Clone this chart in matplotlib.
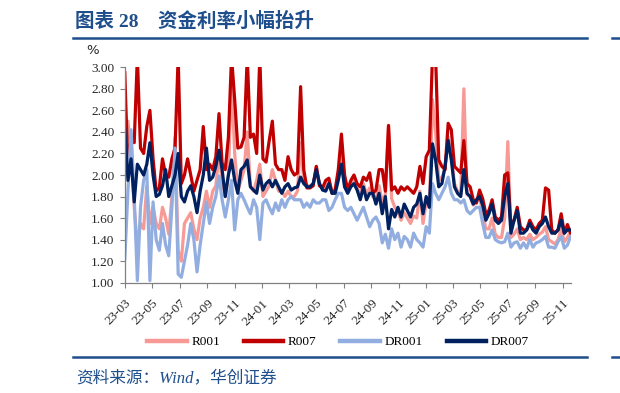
import numpy as np
import pandas as pd
import matplotlib
matplotlib.use('Agg')
import matplotlib.pyplot as plt
from matplotlib.lines import Line2D

# weekly readings, 2023-03 .. 2025-11 (%)
dates = pd.date_range('2023-03-01', periods=143, freq='7D')

r001 = [2.40, 2.50, 2.20, 1.70, 1.35, 1.55, 1.50, 1.90, 1.55, 1.70, 1.55, 1.50, 1.70, 1.60,
        1.45, 1.80, 2.35, 1.30, 1.20, 1.55, 1.60, 1.65, 1.50, 1.40, 1.60, 1.70, 1.85, 1.70,
        1.85, 1.90, 2.20, 1.95, 1.80, 2.00, 2.90, 2.20, 1.85, 1.95, 2.05, 2.40, 1.90, 1.85,
        1.95, 2.10, 1.80, 1.85, 1.90, 2.05, 1.95, 1.85, 1.85, 1.80, 1.85, 1.80, 1.80, 1.85,
        2.30, 1.95, 1.90, 1.90, 1.92, 2.08, 1.92, 1.88, 1.88, 1.95, 1.85, 1.86, 1.98, 2.25,
        1.92, 1.85, 1.92, 1.98, 1.88, 1.82, 1.92, 1.82, 1.88, 1.80, 1.78, 1.90, 1.75, 1.82, 2.46,
        1.78, 1.70, 1.66, 1.58, 1.65, 1.60, 1.55, 1.62, 1.60, 1.85, 1.55, 1.75, 1.70, 2.70,
        2.40, 1.95, 1.98, 2.05, 2.35, 2.20, 1.92, 1.85, 1.82, 2.80, 1.82, 1.80, 1.72, 1.75, 1.80,
        1.65, 1.50, 1.50, 1.60, 1.45, 1.42, 1.42, 1.60, 2.31, 1.42, 1.45, 1.50, 1.40, 1.42,
        1.40, 1.45, 1.40, 1.42, 1.45, 1.47, 1.52, 1.40, 1.38, 1.36, 1.40, 1.50, 1.38, 1.42, 1.48]

r007 = [2.95, 2.05, 2.35, 2.30, 3.10, 2.25, 2.20, 2.45, 2.60, 2.15, 1.85, 1.88, 2.15, 2.00,
        1.98, 2.15, 2.25, 3.10, 1.92, 2.00, 2.15, 2.00, 1.85, 1.95, 2.05, 2.45, 2.05, 2.10,
        2.05, 2.17, 2.57, 2.11, 2.05, 2.35, 3.10, 2.70, 2.25, 2.26, 2.35, 3.10, 2.35, 2.38,
        2.20, 3.10, 2.15, 2.12, 2.32, 2.50, 2.10, 2.05, 2.05, 1.95, 2.17, 2.05, 2.00, 2.02,
        2.82, 2.05, 1.88, 1.88, 1.90, 2.08, 1.90, 1.88, 1.95, 1.97, 1.83, 1.86, 2.05, 2.38,
        2.00, 1.86, 1.95, 2.00, 1.92, 1.89, 1.98, 1.95, 2.02, 1.83, 1.86, 2.05, 2.05, 1.85, 2.46,
        1.86, 1.89, 1.83, 1.89, 1.86, 1.89, 1.86, 1.83, 1.89, 2.08, 1.92, 2.17, 2.23, 3.10,
        3.10, 2.14, 2.08, 2.05, 2.48, 2.42, 2.08, 2.05, 2.02, 2.32, 1.92, 1.89, 1.77, 1.74, 1.86,
        1.78, 1.64, 1.67, 1.77, 1.61, 1.58, 1.61, 2.00, 2.02, 1.52, 1.58, 1.70, 1.52, 1.49,
        1.49, 1.58, 1.52, 1.49, 1.55, 1.58, 1.88, 1.86, 1.49, 1.46, 1.49, 1.64, 1.46, 1.54, 1.46]

dr001 = [1.22, 1.85, 2.42, 1.80, 1.02, 1.70, 1.95, 2.05, 1.02, 1.75, 1.40, 1.30, 1.55, 1.35,
         1.25, 1.70, 2.25, 1.08, 1.05, 1.20, 1.35, 1.55, 1.40, 1.10, 1.35, 1.55, 1.75, 1.55,
         1.70, 1.80, 1.99, 1.77, 1.61, 1.77, 1.95, 1.49, 1.77, 1.83, 1.77, 1.70, 1.64, 1.77,
         1.70, 1.40, 1.74, 1.77, 1.70, 1.64, 1.74, 1.67, 1.77, 1.70, 1.77, 1.80, 1.77, 1.77,
         1.77, 1.70, 1.74, 1.70, 1.77, 1.74, 1.74, 1.77, 1.77, 1.67, 1.70, 1.77, 1.83, 1.83,
         1.70, 1.67, 1.70, 1.64, 1.58, 1.64, 1.70, 1.61, 1.52, 1.58, 1.61, 1.55, 1.37, 1.45, 1.32,
         1.50, 1.40, 1.46, 1.33, 1.43, 1.40, 1.33, 1.46, 1.40, 1.37, 1.33, 1.52, 1.46, 1.92,
         1.83, 1.77, 1.83, 1.89, 1.98, 1.83, 1.77, 1.77, 1.74, 1.77, 1.67, 1.64, 1.67, 1.70, 1.70,
         1.55, 1.42, 1.42, 1.49, 1.40, 1.38, 1.37, 1.38, 1.46, 1.33, 1.37, 1.38, 1.32, 1.37,
         1.32, 1.40, 1.33, 1.37, 1.38, 1.40, 1.43, 1.33, 1.33, 1.32, 1.38, 1.43, 1.32, 1.35, 1.43]

dr007 = [2.42, 1.95, 2.15, 1.75, 2.10, 2.05, 2.00, 2.10, 2.30, 2.00, 1.80, 1.82, 1.90, 2.05,
         1.80, 1.90, 2.00, 2.20, 1.80, 1.75, 1.85, 1.90, 1.80, 1.65, 1.85, 2.00, 2.25, 1.95,
         1.98, 2.08, 2.23, 2.05, 1.80, 2.00, 2.14, 1.95, 1.83, 2.05, 2.08, 2.14, 1.89, 1.86,
         1.83, 2.00, 1.86, 1.92, 1.95, 1.89, 1.95, 1.89, 1.83, 1.89, 1.92, 1.86, 1.88, 1.89,
         1.98, 1.92, 1.89, 1.89, 1.92, 2.05, 1.92, 1.86, 1.85, 1.92, 1.83, 1.83, 1.95, 2.10,
         1.89, 1.83, 1.89, 1.92, 1.86, 1.77, 1.89, 1.77, 1.83, 1.83, 1.73, 1.83, 1.64, 1.80, 1.50,
         1.68, 1.61, 1.70, 1.61, 1.73, 1.67, 1.61, 1.70, 1.73, 1.83, 1.64, 1.80, 1.70, 2.29,
         2.14, 1.89, 1.92, 2.08, 2.32, 2.14, 1.89, 1.83, 1.80, 2.05, 1.83, 1.80, 1.73, 1.77, 1.80,
         1.72, 1.58, 1.64, 1.73, 1.58, 1.55, 1.58, 1.80, 1.92, 1.46, 1.58, 1.67, 1.46, 1.46,
         1.49, 1.55, 1.49, 1.46, 1.52, 1.55, 1.61, 1.52, 1.46, 1.46, 1.49, 1.58, 1.46, 1.49, 1.49]

series = [('R001', r001, '#F79A96'), ('R007', r007, '#C00000'),
          ('DR001', dr001, '#92AEE0'), ('DR007', dr007, '#002060')]

tick_dates = pd.date_range('2023-03-01', '2025-11-01', freq='2MS')
yticks = np.arange(1.0, 3.01, 0.2)

blue = '#1F4E8C'
serif_cjk = ['Liberation Serif', 'Noto Sans CJK SC']

fig = plt.figure(figsize=(6.2, 3.93), dpi=100)
ax = fig.add_axes([124.8 / 620, 1 - 282.7 / 393, (570.6 - 124.8) / 620, (282.7 - 67.3) / 393])

for name, vals, col in series:
    ax.plot(dates, vals, color=col, lw=2.3, label=name, solid_joinstyle='round')

ax.set_xlim(dates[0], dates[-1])
ax.set_ylim(1.0, 3.0)
ax.set_yticks(yticks)
ax.set_yticklabels([f'{v:.2f}' for v in yticks], family='Liberation Serif', fontsize=9.5, color='#262626')
ax.set_xticks(tick_dates)
ax.set_xticklabels([d.strftime('%y-%m') for d in tick_dates], family='Liberation Serif', fontsize=9.5,
                   color='#262626', rotation=45, ha='right', va='top', rotation_mode='anchor')
ax.tick_params(axis='both', direction='out', length=3.5, width=0.8, color='#808080')
ax.tick_params(axis='x', pad=7)
ax.tick_params(axis='y', pad=4)
for s in ['top', 'right']:
    ax.spines[s].set_visible(False)
for s in ['left', 'bottom']:
    ax.spines[s].set_color('#808080')
    ax.spines[s].set_linewidth(0.9)

fig.text(93 / 620, 1 - 50 / 393, '%', ha='center', va='center', fontsize=9.5,
         family='DejaVu Sans', color='#262626')

leg = fig.legend(loc='center', bbox_to_anchor=(338 / 620, 1 - 342 / 393), ncol=4, frameon=False,
                 handlelength=3.0, handletextpad=0.35, columnspacing=1.8,
                 prop={'family': 'Liberation Serif', 'size': 9.5})
for h in leg.legend_handles:
    h.set_linewidth(3.2)

# title and rules
fig.text(75 / 620, 1 - 21 / 393, '图表 28\u3000资金利率小幅抬升', ha='left', va='center',
         fontsize=14, fontweight='bold', color=blue, family=serif_cjk)
for y in [38, 357]:
    fig.add_artist(Line2D([73 / 620, 587 / 620], [1 - y / 393] * 2, color=blue, lw=1.8))
    fig.add_artist(Line2D([612 / 620, 1.0], [1 - y / 393] * 2, color=blue, lw=1.8))

fig.text(76 / 620, 1 - 378 / 393, '资料来源：Wind，华创证券', ha='left', va='center',
         fontsize=12, style='italic', color=blue, family=serif_cjk)

fig.savefig('out.png', dpi=100)
